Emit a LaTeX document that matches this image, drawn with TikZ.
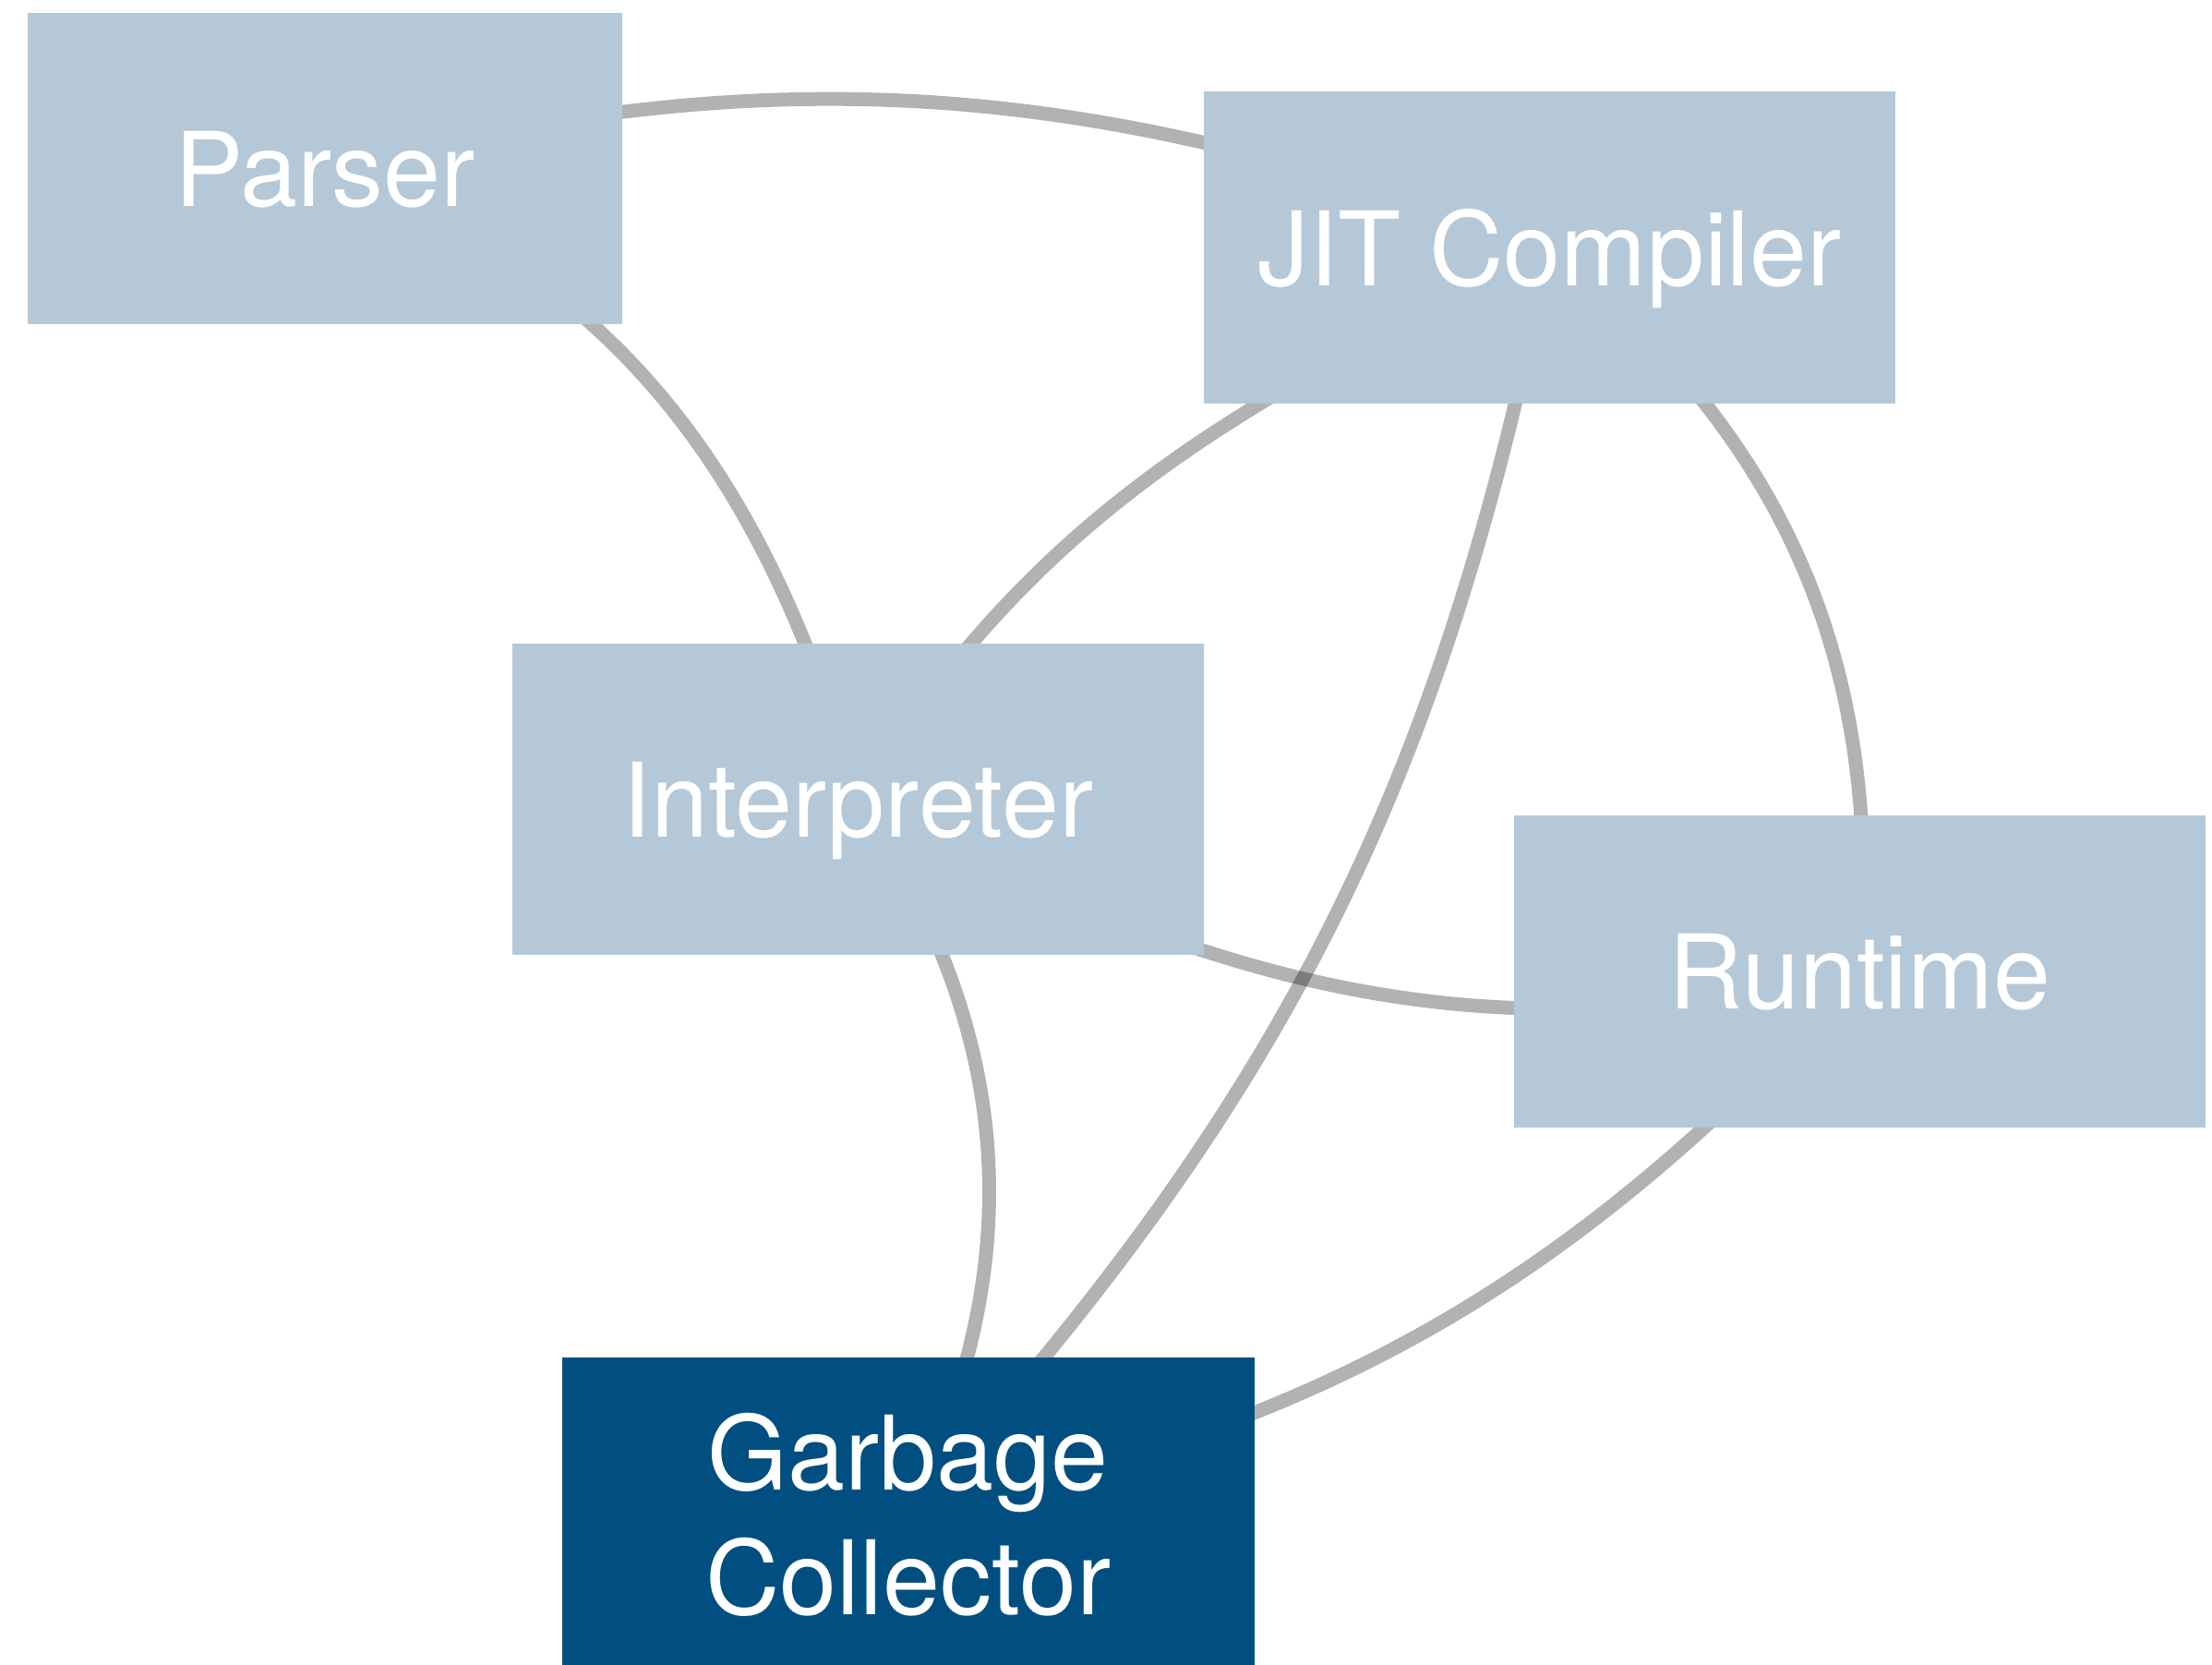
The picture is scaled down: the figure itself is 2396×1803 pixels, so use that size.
\documentclass[tikz,border=0pt]{standalone}
\usepackage{fontspec}
\setmainfont{TeX Gyre Heros}
\definecolor{boxlight}{RGB}{180,200,216}
\definecolor{boxdark}{RGB}{1,79,128}
\pgfdeclarelayer{bg}
\pgfsetlayers{bg,main}

\begin{document}
\begin{tikzpicture}[x=0.01cm,y=-0.01cm,
  part/.style={rectangle,fill=boxlight,text=white,inner sep=0pt,minimum width=7.49cm,minimum height=3.375cm,
    align=center,text depth=0pt,font=\fontsize{31.7}{38.5}\selectfont},
  gcpart/.style={part,fill=boxdark},
  link/.style={draw=black,draw opacity=0.3,line width=0.15cm}]
  \useasboundingbox (0,0) rectangle (2396,1803);
  \node[part,minimum width=6.44cm] (parser) at (352,182.5) {Parser};
  \node[part] (jit) at (1678.5,268) {JIT Compiler};
  \node[part] (interp) at (929.3,865.5) {Interpreter};
  \node[part] (runtime) at (2014.5,1052.3) {Runtime};
  \node[gcpart] (gc) at (983.8,1639.2) {Garbage\\Collector};
  % connectors run centre to centre, boxes hide the ends
  \begin{pgfonlayer}{bg}
    \draw[link] (parser.center) to[out=14,in=160] (jit.center);
    \draw[link] (parser.center) to[out=-20,in=106] (interp.center);
    \draw[link] (jit.center) to[out=207,in=58] (interp.center);
    \draw[link] (jit.center) to[bend left=15.5] (gc.center);
    \draw[link] (jit.center) to[bend left=27.6] (runtime.center);
    \draw[link] (interp.center) to[out=-27.6,in=193] (runtime.center);
    \draw[link] (interp.center) to[bend left=30] (gc.center);
    \draw[link] (runtime.center) to[bend left=17.7] (gc.center);
  \end{pgfonlayer}
\end{tikzpicture}
\end{document}
